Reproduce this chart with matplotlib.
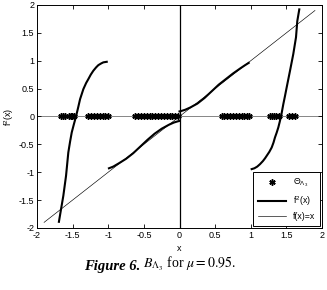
import matplotlib
matplotlib.use('Agg')
import matplotlib.pyplot as plt
from matplotlib.lines import Line2D

plt.rcParams['font.family'] = ['Liberation Sans', 'DejaVu Sans']
plt.rcParams['mathtext.fontset'] = 'stix'

# f^2(x), four branches
b1_x = [-1.692, -1.662, -1.63, -1.592, -1.56, -1.535, -1.512, -1.482, -1.452, -1.422, -1.395,
        -1.349, -1.31, -1.279, -1.245, -1.209, -1.17, -1.139, -1.10, -1.069, -1.021]
b1_y = [-1.89, -1.663, -1.424, -1.065, -0.646, -0.45, -0.287, -0.14, 0.0, 0.16, 0.31,
        0.49, 0.60, 0.67, 0.75, 0.82, 0.88, 0.92, 0.95, 0.97, 0.98]

b2_x = [-0.99, -0.93, -0.85, -0.75, -0.65, -0.55, -0.45, -0.35, -0.25, -0.15, -0.08, -0.03, 0.0]
b2_y = [-0.93, -0.90, -0.84, -0.76, -0.66, -0.54, -0.42, -0.31, -0.22, -0.15, -0.11, -0.09, -0.08]

b3_x = [0.0, 0.03, 0.08, 0.15, 0.25, 0.35, 0.45, 0.55, 0.65, 0.75, 0.85, 0.92, 0.97]
b3_y = [0.09, 0.10, 0.12, 0.16, 0.23, 0.33, 0.45, 0.57, 0.67, 0.77, 0.86, 0.92, 0.96]

b4_x = [1.012, 1.05, 1.09, 1.129, 1.17, 1.20, 1.223, 1.26, 1.293, 1.318, 1.339, 1.363, 1.386,
        1.405, 1.424, 1.44, 1.456, 1.48, 1.503, 1.55, 1.596, 1.634, 1.652, 1.68]
b4_y = [-0.945, -0.93, -0.90, -0.856, -0.80, -0.75, -0.706, -0.635, -0.557, -0.47, -0.377, -0.29, -0.197,
        -0.10, 0.0, 0.11, 0.22, 0.37, 0.52, 0.82, 1.12, 1.42, 1.71, 1.92]

# Theta_{Lambda_3} points on the x axis
theta_x = [-1.66, -1.635, -1.61,
           -1.545, -1.525, -1.505, -1.485,
           -1.28, -1.24, -1.20, -1.16, -1.12, -1.08, -1.04, -1.005,
           -0.62, -0.58, -0.54, -0.50, -0.46, -0.42, -0.38, -0.34, -0.30,
           -0.26, -0.22, -0.18, -0.14, -0.10, -0.06, -0.02,
           0.59, 0.63, 0.67, 0.71, 0.75, 0.79, 0.83, 0.87, 0.91, 0.95, 0.98,
           1.27, 1.30, 1.33, 1.36, 1.39,
           1.54, 1.58, 1.62]

ident = [-1.9, 1.9]
tick_vals = [-2, -1.5, -1, -0.5, 0, 0.5, 1, 1.5, 2]
tick_labels = ['-2', '-1.5', '-1', '-0.5', '0', '0.5', '1', '1.5', '2']

fig = plt.figure(figsize=(3.27, 2.90), dpi=100)
ax = fig.add_axes([0.113, 0.214, 0.872, 0.769])

ax.axhline(0, color='0.45', lw=0.6, zorder=1)
ax.axvline(0, color='k', lw=0.9, zorder=1)

star = (6, 2, 0)
ax.plot(theta_x, [0] * len(theta_x), ls='none', marker=star, color='k', ms=4.5, mew=1.1, zorder=3)
for bx, by in [(b1_x, b1_y), (b2_x, b2_y), (b3_x, b3_y), (b4_x, b4_y)]:
    ax.plot(bx, by, color='k', lw=1.5, zorder=4)
ax.plot(ident, ident, color='k', lw=0.45, zorder=5)

ax.set_xlim(-2, 2)
ax.set_ylim(-2, 2)
ax.set_xticks(tick_vals)
ax.set_yticks(tick_vals)
ax.set_xticklabels(tick_labels)
ax.set_yticklabels(tick_labels)
ax.tick_params(direction='in', length=3, width=0.6, labelsize=6.5, top=True, right=True, pad=2)
for s in ax.spines.values():
    s.set_linewidth(0.7)
ax.set_xlabel('x', fontsize=6.5, labelpad=3)
ax.set_ylabel('$\\mathregular{f^2(x)}$', fontsize=6.5, labelpad=2)

handles = [Line2D([], [], ls='none', marker=star, color='k', ms=4.5, mew=1.1),
           Line2D([], [], color='k', lw=1.5),
           Line2D([], [], color='k', lw=0.45)]
labels = ['$\\mathregular{\\Theta_{\\Lambda_3}}$', '$\\mathregular{f^2(x)}$', 'f(x)=x']
leg = ax.legend(handles, labels, loc='lower right', fontsize=6.3, fancybox=False,
                edgecolor='k', framealpha=1, borderaxespad=0.2, handlelength=3.2,
                labelspacing=0.5, borderpad=0.6)
leg.get_frame().set_linewidth(0.7)

t1 = fig.text(0.257, 0.068, 'Figure 6.', family='Liberation Serif', fontweight='bold',
              fontstyle='italic', fontsize=10.5)
ax.annotate(' $B_{\\Lambda_3}$ for $\\mu = 0.95$.', xy=(1, 0), xycoords=t1, va='bottom',
            family='Liberation Serif', fontsize=10, annotation_clip=False)

fig.savefig('out.png', dpi=100)
